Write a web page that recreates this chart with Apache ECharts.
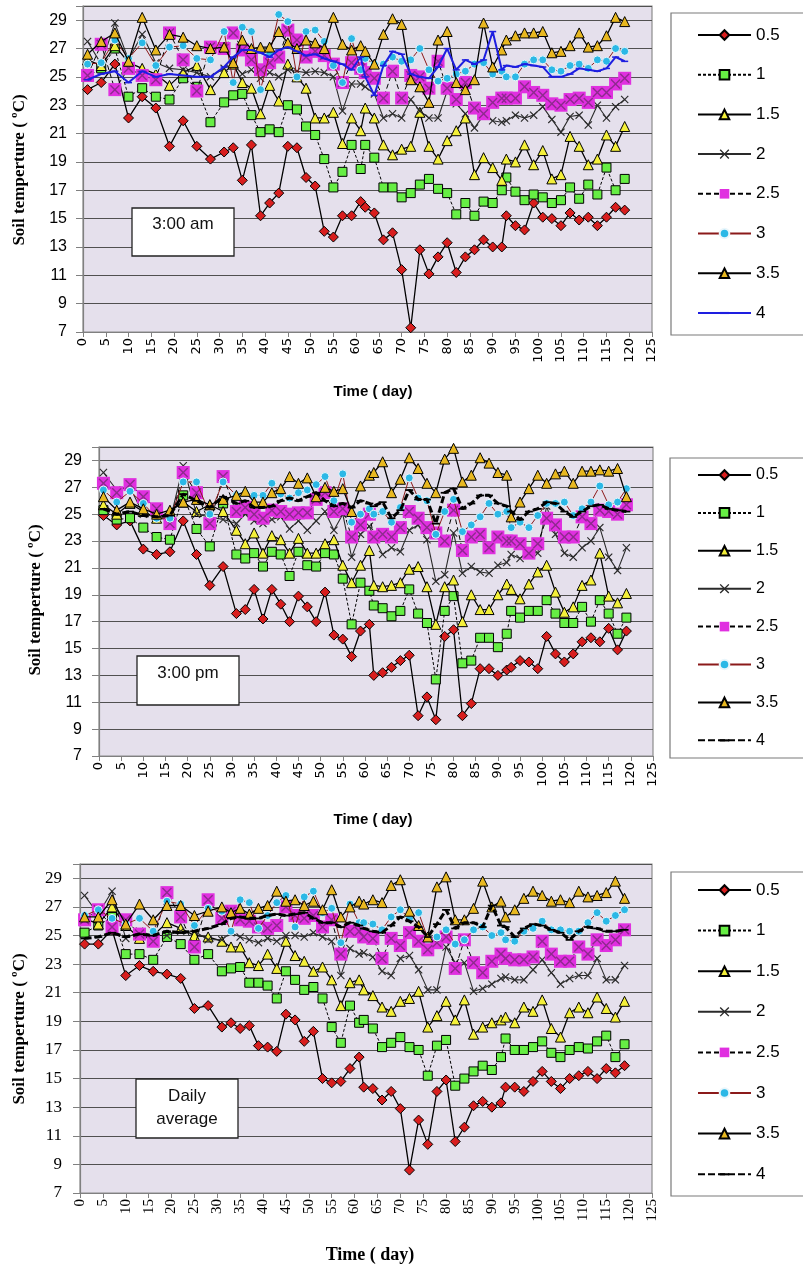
<!DOCTYPE html>
<html>
<head>
<meta charset="utf-8">
<script src="https://cdn.jsdelivr.net/npm/echarts@6/dist/echarts.min.js"></script>
<style>
html,body{margin:0;padding:0;background:#fff;}
#c{width:803px;height:1272px;}
</style>
</head>
<body>
<div id="c"></div>
<script>
// ---- data ----
const days = [1,4,7,10,13,16,19,22,25,28,31,33,35,37,39,41,43,45,47,49,51,53,55,57,59,61,62,64,66,68,70,72,74,76,78,80,82,84,86,88,90,92,93,95,97,99,101,103,105,107,109,111,113,115,117,119];
const depths = ['0.5','1','1.5','2','2.5','3','3.5','4'];
const xTicks = {min:0, max:125, step:5};
const yTicks = {min:7, max:30, step:2};
const panelLabels = ['3:00 am','3:00 pm','Daily\naverage'];

// 3:00 am
const am05 = [24.1,24.6,25.9,22.1,23.6,22.8,20.1,21.9,20.1,19.2,19.7,20.0,17.7,20.2,15.2,16.1,16.8,20.1,20.0,17.9,17.3,14.1,13.7,15.2,15.2,16.2,15.8,15.4,13.5,14.0,11.4,7.3,12.8,11.1,12.3,13.3,11.2,12.3,12.8,13.5,13.0,13.0,15.2,14.5,14.2,16.1,15.1,15.0,14.5,15.4,14.9,15.1,14.5,15.1,15.8,15.6];
const am1 = [25.0,25.6,27.0,23.6,24.2,23.6,23.4,24.9,24.3,21.8,23.2,23.7,23.8,22.3,21.1,21.3,21.1,23.0,22.7,21.5,20.9,19.2,17.2,18.3,20.2,18.5,20.2,19.3,17.2,17.2,16.5,16.8,17.4,17.8,17.1,16.8,15.3,16.1,15.2,16.2,16.1,17.0,17.9,16.9,16.3,16.7,16.5,16.1,16.3,17.2,16.4,17.4,16.7,18.6,17.0,17.8];
const am15 = [26.2,25.8,27.2,26.0,25.6,25.2,24.4,25.3,25.8,24.1,25.3,25.9,24.6,24.2,22.4,24.4,23.3,25.9,25.0,24.2,22.1,22.1,22.5,20.3,22.1,21.2,22.8,22.1,20.2,19.5,19.9,20.1,22.5,20.1,19.2,20.5,21.2,22.1,18.1,19.3,18.6,17.7,19.2,19.0,20.2,18.8,19.8,17.8,18.1,20.8,20.1,18.8,19.2,20.9,20.1,21.5];
const am2 = [27.5,25.9,28.8,26.2,28.0,26.0,25.6,25.5,25.3,25.0,25.6,25.9,25.2,25.5,24.9,25.3,25.0,25.5,25.4,25.3,25.4,25.3,25.0,22.6,24.5,24.5,24.3,23.8,22.1,22.4,22.1,23.4,22.6,22.1,22.1,24.0,23.1,22.4,21.4,22.3,21.9,21.8,21.9,22.3,22.1,22.3,22.9,22.0,21.1,22.2,22.3,21.6,23.0,22.1,22.9,23.4];
const am25 = [25.1,27.3,24.1,25.6,25.1,24.8,28.1,26.2,24.0,27.1,27.0,28.1,26.9,26.2,25.5,26.0,26.4,28.3,27.6,26.4,26.8,26.5,25.9,24.6,26.0,25.6,25.3,24.9,23.5,25.4,23.5,25.1,25.0,24.2,26.1,24.2,23.4,24.6,22.8,22.4,23.2,23.5,23.5,23.5,24.3,23.9,23.7,23.1,23.0,23.4,23.5,23.2,23.9,23.9,24.5,24.9];
const am3 = [25.9,26.0,27.6,26.3,27.4,25.8,27.1,27.2,26.3,26.2,28.2,24.6,28.5,28.2,24.1,26.6,29.4,28.9,25.0,28.2,28.3,27.5,25.8,24.6,27.7,25.5,26.3,25.9,25.9,26.4,26.1,26.2,27.0,25.5,24.7,24.9,25.2,25.4,25.9,26.0,25.2,25.4,25.0,25.0,25.9,26.2,26.2,25.5,25.4,25.8,25.9,25.6,26.2,26.1,27.0,26.8];
const am35 = [26.6,27.5,28.1,26.1,29.2,26.9,28.0,27.8,27.2,27.0,27.1,26.0,27.6,27.0,27.1,27.1,28.2,27.4,27.0,27.6,27.4,27.0,29.2,27.3,26.9,27.2,26.8,25.9,28.0,29.1,28.7,24.8,24.3,23.2,27.6,28.2,24.6,24.1,24.8,28.8,25.7,26.9,27.6,27.9,28.1,28.1,28.2,26.7,26.8,27.2,28.1,27.1,27.2,27.9,29.2,28.9];
const am4 = [24.8,25.2,25.4,24.6,25.4,25.0,25.2,25.1,25.0,25.0,25.7,26.4,26.9,26.9,26.7,26.4,26.9,27.1,26.8,26.5,26.6,26.3,26.1,25.9,25.5,26.4,25.0,23.7,25.8,26.8,26.6,25.2,25.0,24.9,25.7,27.0,25.5,26.2,25.9,26.2,28.2,25.5,25.8,25.7,25.9,25.8,25.7,25.0,25.0,25.2,25.6,25.5,25.4,25.6,26.4,26.1];

// 3:00 pm
const pm05 = [24.9,24.2,24.5,22.4,22.0,22.2,24.5,22.0,19.7,21.1,17.6,17.9,19.4,17.2,19.4,18.3,17.0,18.9,18.1,17.0,19.2,16.0,15.7,14.4,16.3,16.8,13.0,13.2,13.6,14.1,14.5,10.0,11.4,9.7,15.9,16.4,10.0,10.9,13.5,13.5,13.0,13.4,13.6,14.1,14.0,13.5,15.9,14.6,14.0,14.6,15.5,15.8,15.5,16.5,14.9,16.3];
const pm1 = [25.3,24.6,24.7,24.0,23.3,23.1,26.4,23.9,22.6,25.8,22.0,21.7,22.1,21.1,22.2,22.0,20.4,22.2,21.2,21.1,22.1,22.0,20.2,16.8,19.9,19.3,18.2,18.0,17.4,17.8,19.4,17.6,16.9,12.7,17.8,18.9,13.9,14.1,15.8,15.8,15.1,16.1,17.8,17.3,17.8,17.8,18.6,17.6,16.9,16.9,18.1,17.0,18.6,17.6,16.1,17.3];
const pm15 = [25.7,25.0,25.8,25.2,24.7,25.2,25.9,25.2,25.7,25.2,23.8,22.8,23.6,22.1,23.4,23.1,22.1,23.2,22.1,22.1,22.8,23.1,21.2,19.9,21.2,22.3,19.7,19.6,19.7,19.9,20.9,21.1,19.6,16.8,19.6,20.1,17.0,19.0,17.9,17.9,19.0,19.8,19.4,18.7,19.8,20.7,21.2,19.2,17.7,18.1,19.7,20.1,22.1,18.9,18.4,19.1];
const pm2 = [28.1,26.8,27.0,25.0,24.8,24.5,28.6,25.0,24.8,24.6,24.3,25.0,24.5,24.3,24.6,24.8,23.9,24.5,23.8,24.5,25.2,23.8,25.0,21.8,23.5,24.1,23.3,22.0,22.5,22.2,23.8,24.2,23.1,20.0,20.5,23.6,20.6,21.1,20.7,20.6,21.2,21.4,22.0,21.7,22.2,22.1,25.6,23.5,22.1,21.8,22.5,23.0,24.0,21.8,20.8,22.5];
const pm25 = [27.3,26.6,27.2,26.3,25.4,24.3,28.1,26.6,24.3,27.8,25.2,25.5,25.0,24.7,25.3,25.2,25.0,25.1,25.1,26.1,26.6,25.2,25.4,23.3,24.2,25.0,23.3,23.5,23.3,24.0,25.2,24.7,24.0,23.6,23.0,25.3,22.3,23.3,23.5,22.5,23.3,23.0,23.0,22.8,22.1,22.8,24.7,24.2,23.3,23.3,24.8,24.3,25.3,25.2,25.0,25.7];
const pm3 = [26.8,25.9,26.7,25.8,24.7,24.7,27.4,27.4,25.0,27.4,26.4,26.6,26.4,26.4,27.3,26.5,26.2,26.6,26.8,27.2,27.8,26.0,28.0,24.4,25.0,25.4,25.0,25.2,24.4,25.5,27.7,26.2,26.0,23.5,25.2,26.1,23.7,24.2,24.8,25.8,25.0,25.2,24.0,24.4,24.0,24.9,25.8,25.8,25.9,24.9,25.4,25.9,27.1,25.7,25.9,26.9];
const pm35 = [26.3,25.3,25.9,25.4,25.0,25.3,25.9,26.1,25.7,26.1,26.4,26.7,25.9,25.9,26.6,26.9,27.8,27.3,27.7,26.3,27.0,26.7,26.9,25.2,27.1,27.9,28.1,28.9,26.6,27.6,29.2,28.4,27.3,26.6,29.1,29.9,27.4,27.9,29.2,28.8,28.1,27.9,24.8,25.9,26.9,27.9,27.3,28.0,28.2,27.3,28.2,28.2,28.3,28.2,28.4,26.3];
const pm4 = [25.4,25.0,25.2,24.9,24.8,24.9,26.5,26.0,25.5,26.3,25.8,26.0,25.5,25.5,25.6,26.0,26.2,26.0,26.3,26.6,26.0,25.6,25.8,25.5,26.0,25.8,25.6,25.9,24.7,25.3,26.8,26.1,26.1,24.3,26.6,26.9,25.4,25.8,26.4,26.4,25.8,25.6,25.2,24.6,25.2,25.4,25.9,25.8,25.2,24.8,25.2,25.6,25.7,25.4,25.3,25.2];

// Daily average
const av05 = [24.4,24.4,25.4,22.2,22.9,22.5,22.3,22.0,19.9,20.1,18.6,18.9,18.5,18.7,17.3,17.2,16.9,19.5,19.1,17.6,18.3,15.0,14.7,14.8,15.7,16.5,14.4,14.3,13.5,14.1,12.9,8.6,12.1,10.4,14.1,14.9,10.6,11.6,13.1,13.4,13.0,13.3,14.4,14.4,14.1,14.8,15.5,14.8,14.3,15.0,15.2,15.5,15.0,15.7,15.4,15.9];
const av1 = [25.2,25.7,26.3,23.7,23.7,23.3,24.9,24.4,23.3,23.7,22.5,22.7,22.8,21.7,21.7,21.5,20.6,22.5,21.9,21.2,21.4,20.6,18.6,17.5,20.1,18.9,19.1,18.5,17.2,17.5,17.9,17.2,17.0,15.2,17.3,17.7,14.5,15.0,15.5,15.9,15.6,16.5,17.8,17.0,17.0,17.2,17.6,16.8,16.5,17.0,17.2,17.1,17.6,18.0,16.5,17.4];
const av15 = [26.2,25.8,27.0,25.7,24.8,25.0,25.9,25.5,25.0,24.9,24.6,24.2,24.2,23.1,22.9,23.7,22.7,24.6,23.6,23.2,22.5,22.8,21.9,20.1,21.7,21.9,21.2,20.8,20.0,19.7,20.4,20.6,21.1,18.6,19.4,20.4,19.1,20.5,18.1,18.6,18.9,19.1,19.3,18.9,20.0,19.7,20.5,18.5,17.9,19.6,20.0,19.6,20.7,19.9,19.3,20.4];
const av2 = [27.8,26.5,28.1,24.8,25.3,25.0,25.0,25.3,25.3,24.7,24.7,25.2,24.9,24.7,24.5,24.8,24.6,25.0,25.0,24.9,25.2,24.9,24.6,22.2,24.1,23.7,23.8,23.5,22.5,22.2,23.4,23.6,22.6,21.2,21.2,24.2,23.1,23.1,21.1,21.3,21.6,22.0,22.1,21.9,21.9,22.6,23.3,22.4,21.6,22.0,22.2,22.2,23.4,21.9,21.9,22.9];
const av25 = [26.1,26.8,25.6,26.1,25.1,24.6,28.0,26.3,24.2,27.5,26.2,26.7,26.1,26.0,25.6,25.5,25.7,27.0,26.4,26.2,26.4,25.6,26.1,23.7,25.3,25.3,24.9,24.8,23.4,24.8,24.3,25.2,24.6,24.0,24.5,24.9,22.7,24.7,23.1,22.4,23.2,23.7,23.4,23.3,23.3,23.5,24.6,23.7,23.2,23.2,24.2,23.7,24.7,24.3,24.7,25.4];
const av3 = [26.4,26.8,26.2,25.8,26.2,25.3,27.4,27.2,25.7,26.9,26.7,25.3,27.5,27.3,25.5,26.4,27.3,27.8,25.6,27.7,28.1,26.6,26.9,24.5,27.2,25.9,25.9,25.8,25.4,26.3,26.8,26.2,26.6,24.8,24.9,25.4,24.4,24.7,25.4,25.6,25.0,25.2,24.7,24.6,25.3,25.5,26.0,25.4,25.4,25.3,25.3,25.9,26.6,26.0,26.4,26.8];
const av35 = [26.3,26.3,27.5,25.8,27.2,26.1,27.1,27.1,26.4,26.7,27.0,26.6,26.9,26.5,26.9,27.1,28.1,27.4,27.5,27.1,27.4,26.8,28.2,26.3,27.0,27.4,27.2,27.5,27.3,28.5,28.9,26.7,25.7,24.9,28.4,29.1,26.1,26.1,26.9,28.8,27.0,27.4,26.3,26.8,27.6,28.1,27.8,27.4,27.5,27.3,28.1,27.7,27.8,28.0,28.8,27.6];
const av4 = [24.8,24.9,25.2,24.9,25.1,25.0,25.3,25.2,25.3,25.5,25.8,26.2,26.3,26.2,26.2,26.4,26.5,26.4,26.5,26.6,26.2,25.9,25.9,25.6,25.9,25.7,25.5,25.3,25.2,25.7,26.3,26.0,25.6,24.9,25.8,26.8,25.5,25.9,25.9,25.6,27.1,25.7,25.6,24.9,25.5,25.8,25.7,25.4,25.2,24.7,25.3,25.6,25.5,25.3,25.3,25.4];

const panelSeries = [
  [am05,am1,am15,am2,am25,am3,am35,am4],
  [pm05,pm1,pm15,pm2,pm25,pm3,pm35,pm4],
  [av05,av1,av15,av2,av25,av3,av35,av4]
];

// ---- styles ----
const X_PATH = 'path://M0,1L1,0L5,4L9,0L10,1L6,5L10,9L9,10L5,6L1,10L0,9L4,5Z';
const DASH_PATH = 'path://M0,0M0,4L10,4L10,6.2L0,6.2ZM10,10';
function depthStyle(i, p){
  switch(i){
    case 0: return {symbol:'diamond', size:10, fill:'#D81E1E', border:'#000', bw:1, line:'#000', lw:1.3, lt:'solid'};
    case 1: return {symbol:'rect', size:9, fill:'#66EE44', border:'#000', bw:1, line:'#000', lw:1, lt:[3,2]};
    case 2: return {symbol:'triangle', size:10, fill:'#F4F03A', border:'#000', bw:1, line:'#000', lw:1.3, lt:'solid'};
    case 3: return {symbol:X_PATH, size:8, fill:'#2a2a2a', border:null, bw:0, line:'#2a2a2a', lw:1.1, lt:'solid'};
    case 4: return {symbol:'rect', size:13, fill:'#E030E0', border:null, bw:0, line:'#000', lw:1, lt:[5,3]};
    case 5: return {symbol:'circle', size:8, fill:'#2BB8E6', border:'#EAF6FB', bw:1, line:'#8B1A1A', lw:1, lt:'solid'};
    case 6: return {symbol:'triangle', size:10, fill:'#E8B820', border:'#000', bw:1, line:'#000', lw:1.3, lt:'solid'};
    case 7: return p===0
      ? {symbol:DASH_PATH, size:7, fill:'#1E1EE0', border:null, bw:0, line:'#1E1EE0', lw:2, lt:'solid'}
      : {symbol:DASH_PATH, size:8, fill:'#000', border:null, bw:0, line:'#000', lw:3, lt:[7,3]};
  }
}

// ---- layout ----
const grids = [
  {left:83, top:6, width:569, height:326},
  {left:99, top:447, width:554, height:309},
  {left:80, top:864, width:572, height:329}
];
const prefixes = ['a','p','d'];
const yFonts = [{f:'Liberation Sans', s:16, m:16},{f:'Liberation Sans', s:16, m:17},{f:'Liberation Serif', s:17, m:18}];
const xFonts = [{f:'DejaVu Sans', s:13},{f:'DejaVu Sans', s:13},{f:'Liberation Serif', s:15}];
const legendPos = [
  {top:26, gap:21.7, fs:17, box:[671,13,150,322]},
  {top:466, gap:19.9, fs:16, box:[670,458,150,300]},
  {top:881, gap:22.6, fs:17, box:[671,872,150,324]}
];

const option = {
  animation:false,
  backgroundColor:'#fff',
  grid: grids.map(g=>Object.assign({show:true, backgroundColor:'#E5E0EC', borderColor:'#8c8c8c', borderWidth:1.2}, g)),
  xAxis: grids.map((g,i)=>({
    type:'value', gridIndex:i, min:xTicks.min, max:xTicks.max, interval:xTicks.step,
    axisLine:{show:true, onZero:false, lineStyle:{color:'#808080', width:1.2}},
    axisTick:{show:true, length:5, lineStyle:{color:'#808080'}},
    axisLabel:{rotate:90, margin:6, color:'#000', fontFamily:xFonts[i].f, fontSize:xFonts[i].s},
    splitLine:{show:false}
  })),
  yAxis: grids.map((g,i)=>({
    type:'value', gridIndex:i, min:yTicks.min, max:yTicks.max, interval:yTicks.step,
    axisLine:{show:true, lineStyle:{color:'#808080', width:1.2}},
    axisTick:{show:true, length:7, lineStyle:{color:'#808080'}},
    axisLabel:{margin:yFonts[i].m, color:'#000', fontFamily:yFonts[i].f, fontSize:yFonts[i].s,
      formatter:v=> (v===yTicks.max ? '' : String(v))},
    splitLine:{show:true, lineStyle:{color:'#505050', width:1.2}}
  })),
  legend: legendPos.map((L,p)=>({
    orient:'vertical', left:697, top:L.top, padding:0,
    itemWidth:53, itemHeight:12, itemGap:L.gap,
    textStyle:{fontFamily:'Liberation Sans', fontSize:L.fs, lineHeight:18, color:'#000'},
    formatter:n=>n.split('|')[1],
    selectedMode:false,
    data: depths.map(d=>prefixes[p]+'|'+d)
  })),
  series: [],
  graphic: []
};

panelSeries.forEach((arrs,p)=>{
  arrs.forEach((vals,i)=>{
    const st = depthStyle(i,p);
    option.series.push({
      type:'line', name:prefixes[p]+'|'+depths[i], xAxisIndex:p, yAxisIndex:p,
      data: days.map((d,k)=>[d, vals[k]]),
      symbol:st.symbol, symbolSize:st.size, showAllSymbol:true,
      lineStyle:{color:st.line, width:st.lw, type:st.lt},
      itemStyle:{color:st.fill, borderColor:st.border||st.fill, borderWidth:st.bw, opacity:1},
      emphasis:{disabled:true}, silent:true, z:2+i*0.01
    });
    if(i===4){
      option.series.push({
        type:'line', name:prefixes[p]+'|x25', xAxisIndex:p, yAxisIndex:p,
        data: days.map((d,k)=>[d, vals[k]]),
        symbol:X_PATH, symbolSize:10, showAllSymbol:true,
        lineStyle:{width:0, opacity:0},
        itemStyle:{color:'#8E2A8E'},
        emphasis:{disabled:true}, silent:true, z:2.045
      });
    }
  });
});

// legend boxes
legendPos.forEach(L=>{
  option.graphic.push({type:'rect', shape:{x:L.box[0], y:L.box[1], width:L.box[2], height:L.box[3]},
    style:{fill:'#fff', stroke:'#7a7a7a', lineWidth:1.2}, z:-1, silent:true});
});
// annotation boxes
const annBoxes = [[132,208,102,48,224],[137,656,102,49,673],[136,1079,102,59,1108]];
annBoxes.forEach((b,p)=>{
  option.graphic.push({type:'rect', shape:{x:b[0], y:b[1], width:b[2], height:b[3]},
    style:{fill:'#fff', stroke:'#222', lineWidth:1.3}, z:50, silent:true});
  option.graphic.push({type:'text', x:b[0]+b[2]/2, y:b[4], z:51, silent:true,
    style:{text:panelLabels[p], fill:'#111', font:'17px "Liberation Sans"', align:'center', verticalAlign:'middle', lineHeight:23}});
});
// axis titles
const yTitle = 'Soil temperture ( ºC)';
[[19.5,170],[36,600],[19.5,1029]].forEach(c=>{
  option.graphic.push({type:'text', x:c[0], y:c[1], rotation:Math.PI/2, z:51, silent:true,
    style:{text:yTitle, fill:'#000', font:'bold 17px "Liberation Serif"', align:'center', verticalAlign:'middle'}});
});
[[373,392,'bold 15px "Liberation Sans"'],[373,820,'bold 15px "Liberation Sans"'],[370,1255,'bold 18px "Liberation Serif"']].forEach(c=>{
  option.graphic.push({type:'text', x:c[0], y:c[1], z:51, silent:true,
    style:{text:'Time ( day)', fill:'#000', font:c[2], align:'center', verticalAlign:'middle'}});
});

const chart = echarts.init(document.getElementById('c'), null, {renderer:'canvas', width:803, height:1272});
chart.setOption(option);
</script>
</body>
</html>
